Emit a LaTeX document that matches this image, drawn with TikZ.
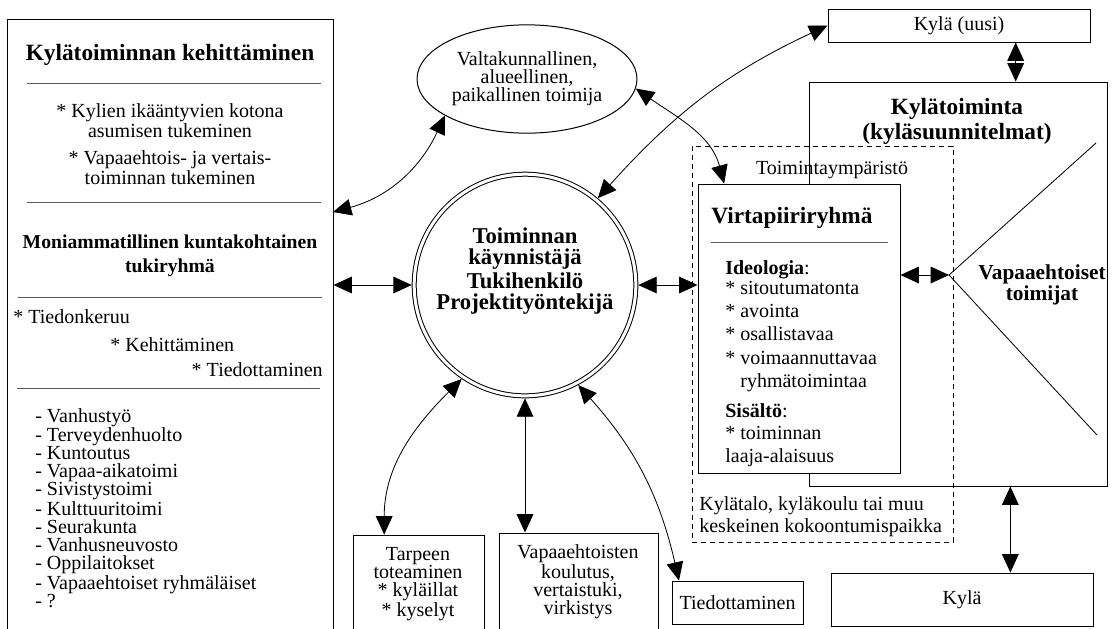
\documentclass[tikz,border=0pt]{standalone}
\usepackage{fontspec}
\setmainfont{Liberation Serif}
\usetikzlibrary{arrows.meta,fit,shapes.geometric}
\tikzset{
  laatikko/.style={draw, line width=0.6pt, inner sep=0pt},
  viiva/.style={black!65, line width=0.6pt},
  nuoli/.style={line width=0.5pt, >={Triangle[length=11pt,width=10pt]}, <->},
  teksti/.style={font=\fontsize{12}{10.8}\selectfont, inner sep=0pt},
  lihava/.style={font=\fontsize{11.8}{14.4}\selectfont\bfseries, inner sep=0pt},
  otsikko/.style={font=\fontsize{14}{15}\selectfont\bfseries, inner sep=0pt}
}

\begin{document}
\begin{tikzpicture}[x=0.6pt, y=0.6pt]
                \useasboundingbox (0,0) rectangle (1112,-628);
                % vasen laatikko
                \node[laatikko, fit={(7,-19) (333,-645)}] (kehitys) {};
                \node[otsikko] (kehitysnimi) at (170,-55) {Kylätoiminnan kehittäminen};
                \draw[viiva] (27,-83) -- (321,-83);
                \node[teksti, align=center] (ikaantyvat) at (170,-121) {* Kylien ikääntyvien kotona\\asumisen tukeminen};
                \node[teksti, align=center] (vertais) at (170,-168) {* Vapaaehtois- ja vertais-\\toiminnan tukeminen};
                \draw[viiva] (27,-202) -- (321,-202);
                \node[lihava, align=center] (tukiryhma) at (170,-256) {Moniammatillinen kuntakohtainen\\tukiryhmä};
                \draw[viiva] (18,-297) -- (322,-297);
                \node[teksti, anchor=west] (tiedonkeruu) at (13,-317) {* Tiedonkeruu};
                \node[teksti, anchor=west] (kehittaminen) at (110,-345) {* Kehittäminen};
                \node[teksti, anchor=east] (tiedottaminen) at (323,-370) {* Tiedottaminen};
                \draw[viiva] (17,-388) -- (320,-388);
                \node[teksti, anchor=west, align=left] (jasenet) at (35,-508) {- Vanhustyö\\- Terveydenhuolto\\- Kuntoutus\\- Vapaa-aikatoimi\\- Sivistystoimi\\- Kulttuuritoimi\\- Seurakunta\\- Vanhusneuvosto\\- Oppilaitokset\\- Vapaaehtoiset ryhmäläiset\\- ?};
                % keskusta
                \node[ellipse, draw, line width=0.6pt, minimum width=132pt, minimum height=65pt, teksti, align=center] (toimija) at (527,-79) {Valtakunnallinen,\\alueellinen,\\paikallinen toimija};
                \node[circle, draw, line width=0.6pt, double, double distance=1.8pt, minimum size=133pt, inner sep=0pt, outer sep=1.5pt] (tekija) at (525,-285) {};
                \node[font=\fontsize{13.6}{13}\selectfont\bfseries, align=center, inner sep=0pt] (tekijanimi) at (525,-271) {Toiminnan\\käynnistäjä\\[1pt]Tukihenkilö\\Projektityöntekijä};
                % oikea puoli
                \node[laatikko, fit={(828,-9) (1090,-42)}] (kylauusi) {};
                \node[teksti] (kylauusinimi) at (kylauusi) {Kylä (uusi)};
                \node[laatikko, fit={(809,-82) (1107,-486)}] (kylatoiminta) {};
                \node[otsikko, align=center] (kylatoimintanimi) at (957,-121) {Kylätoiminta\\(kyläsuunnitelmat)};
                \coordinate (karki) at (949,-275);
                \draw[line width=0.5pt] (1096,-143) -- (karki) -- (1097,-435);
                \node[teksti, font=\fontsize{12.8}{10.8}\selectfont\bfseries, align=center] (vapaaehtoiset) at (1042,-285) {Vapaaehtoiset\\toimijat};
                \node[draw, dash pattern=on 3pt off 2.4pt, line width=0.5pt, inner sep=0pt, fit={(692,-146) (953,-542)}] (ymparisto) {};
                \node[teksti] (ymparistonimi) at (832,-170) {Toimintaympäristö};
                \node[teksti, font=\fontsize{12}{13}\selectfont, anchor=west, align=left] (kokoontumis) at (699,-517) {Kylätalo, kyläkoulu tai muu\\keskeinen kokoontumispaikka};
                \node[laatikko, fill=white, fit={(698,-184) (900,-473)}] (virta) {};
                \node[otsikko, font=\fontsize{14}{16}\selectfont\bfseries, anchor=west] (virtanimi) at (711,-218) {Virtapiiriryhmä};
                \draw[viiva] (711,-242) -- (888,-242);
                \node[teksti, font=\fontsize{12}{14}\selectfont, anchor=north west, align=left] (ideologia) at (725,-260) {\textbf{Ideologia}:\\[-2pt]* sitoutumatonta\\* avointa\\* osallistavaa\\* voimaannuttavaa\\\phantom{* }ryhmätoimintaa\\[4pt]\textbf{Sisältö}:\\[-1pt]* toiminnan\\laaja-alaisuus};
                % alarivi
                \node[laatikko, fit={(353,-535) (484,-645)}] (tarve) {};
                \node[teksti, align=center] (tarveteksti) at (418,-584) {Tarpeen\\toteaminen\\* kyläillat\\* kyselyt};
                \node[laatikko, fit={(499,-533) (658,-645)}] (koulutus) {};
                \node[teksti, align=center] (koulutusteksti) at (578,-582) {Vapaaehtoisten\\koulutus,\\vertaistuki,\\virkistys};
                \node[laatikko, fit={(672,-581) (803,-624)}] (tiedotus) {};
                \node[teksti] (tiedotusnimi) at (tiedotus) {Tiedottaminen};
                \node[laatikko, fit={(831,-573) (1093,-626)}] (kyla) {};
                \node[teksti] (kylanimi) at (kyla) {Kylä};
                % nuolet
                \coordinate (kehitysreuna) at (333,-212);
                \coordinate (uusialas) at ([xshift=34pt]kylauusi.south);
                \coordinate (kylaylos) at ([xshift=29pt]kyla.north);
                \draw[nuoli] (kehitys.east |- tekija.west) -- (tekija.west);
                \draw[nuoli] (tekija.east) -- (virta.west |- tekija.east);
                \draw[nuoli] (virta.east |- karki) -- (karki);
                \draw[nuoli] (uusialas) -- (uusialas |- kylatoiminta.north);
                \draw[nuoli] (kylaylos |- kylatoiminta.south) -- (kylaylos);
                \draw[nuoli] (tekija.south) -- (tekija.south |- koulutus.north);
                \draw[nuoli] (kehitysreuna) to[out=15, in=245] (toimija.204);
                \draw[nuoli] (tekija.50) to[out=48, in=205] (kylauusi.west);
                \draw[nuoli] (toimija.-5) to[out=-35, in=105] ([xshift=16pt]virta.north west);
                \draw[nuoli] (tekija.236) to[out=225, in=90] ([xshift=19pt]tarve.north west);
                \draw[nuoli] (tekija.298) to[out=-48, in=103] ([xshift=4.5pt]tiedotus.north west);
            \end{tikzpicture}
\end{document}
